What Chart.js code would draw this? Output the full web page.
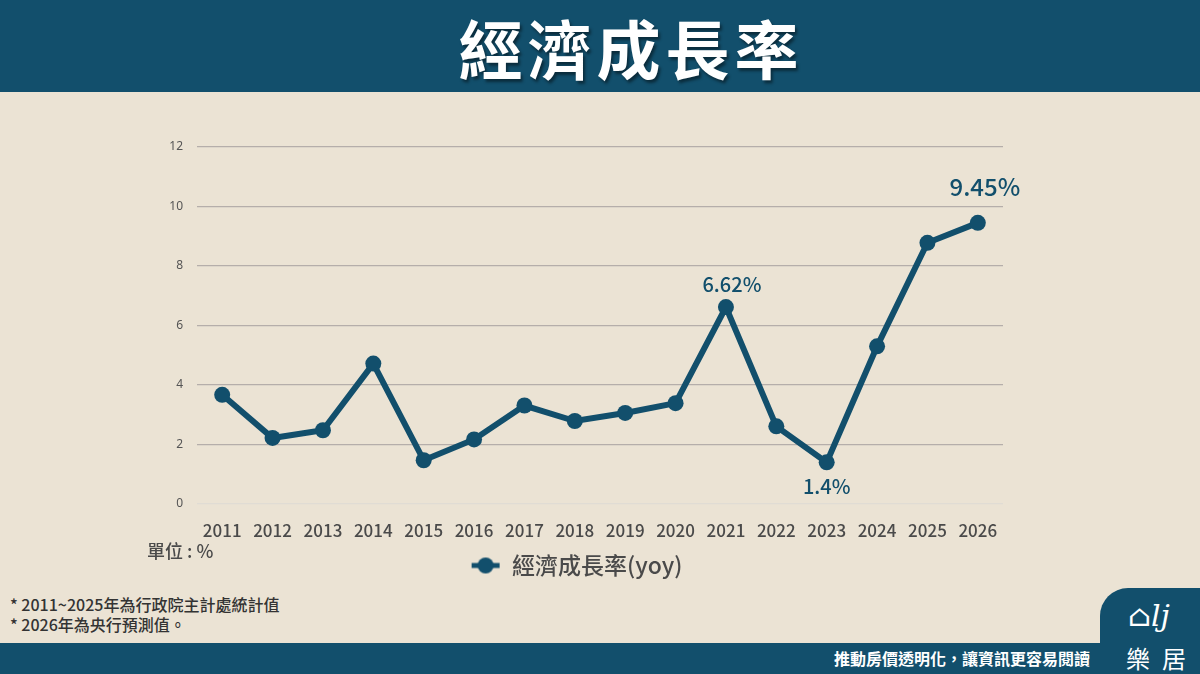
<!DOCTYPE html>
<html>
<head>
<meta charset="utf-8">
<script src="https://cdn.jsdelivr.net/npm/chart.js@4"></script>
<style>
  html, body { margin: 0; padding: 0; }
  body { width: 1200px; height: 674px; background: #ebe3d4; position: relative; overflow: hidden;
         font-family: "Noto Sans CJK TC", "Noto Sans", sans-serif; }
  #header { position: absolute; left: 0; top: 0; width: 1200px; height: 92px; background: #124f6c; }
  #title { position: absolute; left: 0; top: 0; width: 1262px; height: 92px; line-height: 92px; text-align: center;
           color: #fff; font-size: 64px; font-weight: 700; letter-spacing: 5px; text-shadow: 2px 3px 3px rgba(0,0,0,0.45); }
  #chartBox { position: absolute; left: 0; top: 92px; width: 1200px; height: 495px; }
  #unit { position: absolute; left: 147px; top: 537px; font-size: 18px; color: #4a4a4a; font-weight: 500; }
  .note { position: absolute; left: 10px; font-size: 16px; color: #333; font-weight: 500; }
  #footer { position: absolute; left: 0; top: 643px; width: 1200px; height: 31px; background: #124f6c; }
  #slogan { position: absolute; right: 110px; top: 643px; height: 31px; line-height: 31px; color: #fff; font-size: 16px; font-weight: 700; }
  #tab { position: absolute; left: 1100px; top: 588px; width: 100px; height: 60px; background: #124f6c; border-top-left-radius: 28px; }
  #logoTxt { position: absolute; left: 1126px; top: 640px; color: #fff; font-size: 24px; letter-spacing: 12px; }
  #logoMark { position: absolute; left: 1128px; top: 598px; color: #fff; font-size: 30px; font-style: italic; font-family: "DejaVu Serif", serif; }
</style>
</head>
<body>
<div id="header"></div>
<div id="title">經濟成長率</div>
<div id="chartBox"><canvas id="myChart" width="1200" height="495"></canvas></div>
<div id="unit">單位 : %</div>
<div class="note" style="top:592px">* 2011~2025年為行政院主計處統計值</div>
<div class="note" style="top:612px">* 2026年為央行預測值。</div>
<div id="footer"></div>
<div id="tab"></div>
<div id="slogan">推動房價透明化，讓資訊更容易閱讀</div>
<div id="logoMark">⌂lj</div>
<div id="logoTxt">樂居</div>
<script>
const anos = ['2011', '2012', '2013', '2014', '2015', '2016', '2017', '2018',
              '2019', '2020', '2021', '2022', '2023', '2024', '2025', '2026'];
const crescimento = [3.67, 2.22, 2.48, 4.72, 1.47, 2.17, 3.31, 2.79,
                     3.06, 3.39, 6.62, 2.61, 1.40, 5.30, 8.78, 9.45];
const rotulos = { 10: '6.62%', 12: '1.4%', 15: '9.45%' }; // índice -> texto
const nomeSerie = '經濟成長率(yoy)';
const corLinha = '#124f6c';

// marcador da legenda: linha com um círculo no meio
const marcador = document.createElement('canvas');
marcador.width = 30; marcador.height = 18;
const mctx = marcador.getContext('2d');
mctx.strokeStyle = corLinha; mctx.lineWidth = 5;
mctx.beginPath(); mctx.moveTo(1, 9); mctx.lineTo(29, 9); mctx.stroke();
mctx.fillStyle = corLinha;
mctx.beginPath(); mctx.arc(15, 9, 8, 0, Math.PI * 2); mctx.fill();

// desenha os rótulos de valor
const pluginRotulos = {
  id: 'rotulos',
  afterDatasetsDraw(chart) {
    const c = chart.ctx;
    const meta = chart.getDatasetMeta(0);
    c.save();
    c.fillStyle = corLinha;
    c.textAlign = 'center';
    Object.keys(rotulos).forEach(k => {
      const p = meta.data[k];
      const grande = k === '15';
      c.font = '500 ' + (grande ? '24px' : '20px') + ' "Noto Sans CJK TC", "Noto Sans", sans-serif';
      if (k === '12') {
        c.textBaseline = 'top';
        c.fillText(rotulos[k], p.x, p.y + 14);
      } else {
        c.textBaseline = 'bottom';
        c.fillText(rotulos[k], p.x + (grande ? 7 : 6), p.y - (grande ? 24 : 13));
      }
    });
    c.restore();
  }
};

const ctx = document.getElementById('myChart').getContext('2d');
const grafico = new Chart(ctx, {
  type: 'line',
  data: {
    labels: anos,
    datasets: [{
      label: nomeSerie,
      data: crescimento,
      borderColor: corLinha,
      backgroundColor: corLinha,
      borderWidth: 6,
      pointRadius: 8,
      pointBackgroundColor: corLinha,
      pointBorderWidth: 0,
      tension: 0
    }]
  },
  options: {
    responsive: false,
    animation: false,
    layout: { padding: { left: 150, right: 197, top: 55, bottom: 0 } },
    scales: {
      x: {
        offset: true,
        grid: { display: false },
        border: { display: false },
        ticks: { color: '#4a4a4a', padding: 8, font: { size: 17, weight: 500, family: '"Noto Sans CJK TC", "Noto Sans", sans-serif' } },
        afterFit(scale) { scale.height = 38; }
      },
      y: {
        min: 0, max: 12,
        ticks: { stepSize: 2, color: '#555', padding: 14, font: { size: 12, family: '"Noto Sans", sans-serif' } },
        grid: {
          color: ctx => ctx.tick.value === 0 ? '#e0dcd4' : '#b5aeaa',
          lineWidth: 1.2,
          drawTicks: false
        },
        border: { display: false },
        afterFit(scale) { scale.width = 47; }
      }
    },
    plugins: {
      tooltip: { enabled: false },
      legend: {
        position: 'bottom',
        labels: {
          color: '#4a4a4a',
          font: { size: 23, weight: 500, family: '"Noto Sans CJK TC", "Noto Sans", sans-serif' },
          usePointStyle: true,
          pointStyleWidth: 30,
          padding: 12,
          generateLabels(chart) {
            return [{
              text: nomeSerie,
              fillStyle: corLinha,
              strokeStyle: corLinha,
              fontColor: '#4a4a4a',
              pointStyle: marcador,
              lineWidth: 0,
              datasetIndex: 0
            }];
          }
        }
      }
    }
  },
  plugins: [pluginRotulos]
});
</script>
</body>
</html>
